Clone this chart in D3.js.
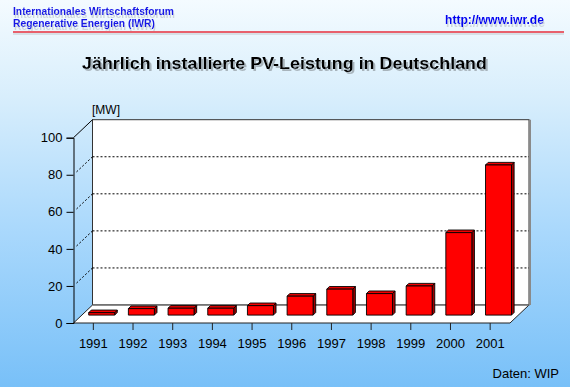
<!DOCTYPE html>
<html><head><meta charset="utf-8">
<script src="https://cdn.jsdelivr.net/npm/d3@7"></script>
<style>html,body{margin:0;padding:0;overflow:hidden}svg{display:block}</style>
</head><body>
<script>
const years = ["1991","1992","1993","1994","1995","1996","1997","1998","1999","2000","2001"];
const values = [1.3, 3.5, 3.7, 3.7, 5.1, 10.2, 14, 11.6, 15.7, 44.5, 81];
const yTicks = [0, 20, 40, 60, 80, 100];
const gridLevels = [20, 40, 60, 80];
const title = "Jährlich installierte PV-Leistung in Deutschland";
const headerLines = ["Internationales Wirtschaftsforum", "Regenerative Energien (IWR)"];
const url = "http://www.iwr.de";
const unit = "[MW]";
const source = "Daten: WIP";

const W = 570, H = 387;
const svg = d3.select("body").append("svg").attr("width", W).attr("height", H);
const defs = svg.append("defs");
const g = defs.append("linearGradient").attr("id","bg").attr("x1",0).attr("y1",0).attr("x2",0).attr("y2",1);
g.append("stop").attr("offset","0").attr("stop-color","#f4fbff");
g.append("stop").attr("offset","0.25").attr("stop-color","#d8eefc");
g.append("stop").attr("offset","0.6").attr("stop-color","#a9d8fc");
g.append("stop").attr("offset","1").attr("stop-color","#78c0f8");
svg.append("rect").attr("width",W).attr("height",H).attr("fill","url(#bg)");

function shadowFilter(id, dx, dy, color) {
  const fl = defs.append("filter").attr("id", id).attr("x","-5%").attr("y","-30%").attr("width","115%").attr("height","190%");
  fl.append("feOffset").attr("in","SourceAlpha").attr("dx",dx).attr("dy",dy).attr("result","off");
  fl.append("feFlood").attr("flood-color",color).attr("result","col");
  fl.append("feComposite").attr("in","col").attr("in2","off").attr("operator","in").attr("result","sh");
  const m = fl.append("feMerge");
  m.append("feMergeNode").attr("in","sh");
  m.append("feMergeNode").attr("in","SourceGraphic");
}
shadowFilter("hshadow", 1, 3, "#cdd5dc");
shadowFilter("tshadow", 1.5, 1.5, "#a8b4bc");

const font = "'Liberation Sans', Arial, sans-serif";

// header
const hdr = [[headerLines[0], 13, 15, 161], [headerLines[1], 13, 26.5, 142]];
hdr.forEach(([t,x,y,len]) => {
  svg.append("text").attr("x",x).attr("y",y).attr("font-family",font).attr("font-weight","bold")
    .attr("font-size",11).attr("fill","#1414e6").attr("textLength",len).attr("lengthAdjust","spacingAndGlyphs")
    .attr("filter","url(#hshadow)").text(t);
});
svg.append("text").attr("x",445).attr("y",24).attr("font-family",font).attr("font-weight","bold")
  .attr("font-size",12.5).attr("fill","#0000f0").attr("textLength",99).attr("lengthAdjust","spacingAndGlyphs")
  .attr("filter","url(#hshadow)").text(url);
svg.append("line").attr("x1",13).attr("x2",564).attr("y1",34).attr("y2",34).attr("stroke","#d0d8de").attr("stroke-width",1.5);
svg.append("line").attr("x1",13).attr("x2",564).attr("y1",32).attr("y2",32).attr("stroke","#e8606c").attr("stroke-width",1.8);

// title
svg.append("text").attr("x",82).attr("y",68.5).attr("font-family",font).attr("font-weight","bold")
  .attr("font-size",17).attr("fill","#000").attr("textLength",405).attr("lengthAdjust","spacingAndGlyphs")
  .attr("filter","url(#tshadow)").text(title);

// scales
const x0 = 73.5, x1 = 510;
const DX = 19, DY = -18;
const y = d3.scaleLinear().domain([0,100]).range([323, 137.7]);
const x = d3.scaleBand().domain(years).range([x0, x1]).paddingInner(0.345).paddingOuter(0.1725);

// back wall
svg.append("rect").attr("x", x0+DX).attr("y", y(100)+DY).attr("width", x1-x0).attr("height", y(0)-y(100))
  .attr("fill","#fff").attr("stroke","#333").attr("stroke-width",1);
svg.append("line").attr("x1", x1+DX+1).attr("x2", x1+DX+1).attr("y1", y(100)+DY).attr("y2", y(0)+DY)
  .attr("stroke","#8a8a8a").attr("stroke-width",2);
// floor
svg.append("path").attr("d", `M${x0},${y(0)}L${x1},${y(0)}L${x1+DX},${y(0)+DY}L${x0+DX},${y(0)+DY}Z`)
  .attr("fill","#fff").attr("stroke","#222").attr("stroke-width",1);
svg.append("line").attr("x1", x0+DX).attr("x2", x1+DX).attr("y1", y(0)+DY).attr("y2", y(0)+DY)
  .attr("stroke","#888").attr("stroke-width",1.2);

// gridlines
gridLevels.forEach(v => {
  svg.append("line").attr("x1", x0+DX).attr("x2", x1+DX).attr("y1", y(v)+DY).attr("y2", y(v)+DY)
    .attr("stroke","#000").attr("stroke-width",1).attr("stroke-dasharray","2,2");
  svg.append("line").attr("x1", x0+3).attr("x2", x0+DX).attr("y1", y(v)-3*18/19).attr("y2", y(v)+DY)
    .attr("stroke","#000").attr("stroke-width",1).attr("stroke-dasharray","2,2");
});
// left solid diagonal at top
svg.append("line").attr("x1", x0).attr("x2", x0+DX).attr("y1", y(100)).attr("y2", y(100)+DY).attr("stroke","#000");

// bars
const f = 0.44, bdx = DX*f, bdy = DY*f, dd = 2.6;
const bars = svg.append("g");
years.forEach((yr, i) => {
  const v = values[i];
  const bx = x(yr) + bdx, bw = x.bandwidth();
  const top = y(v) + bdy, bot = y(0) + bdy;
  const gb = bars.append("g").attr("stroke","#000").attr("stroke-width",0.9).attr("stroke-linejoin","round");
  gb.append("path").attr("d", `M${bx+bw},${top}L${bx+bw+dd},${top-dd}L${bx+bw+dd},${bot-dd}L${bx+bw},${bot}Z`).attr("fill","#a00000");
  gb.append("path").attr("d", `M${bx},${top}L${bx+dd},${top-dd}L${bx+bw+dd},${top-dd}L${bx+bw},${top}Z`).attr("fill","#f00000");
  gb.append("rect").attr("x", bx).attr("y", top).attr("width", bw).attr("height", bot-top).attr("fill","#ff0000");
});

// y axis
const yAxis = svg.append("g").attr("transform", `translate(${x0},0)`)
  .call(d3.axisLeft(y).tickValues(yTicks).tickSize(7).tickPadding(4).tickFormat(d3.format("d")));
yAxis.select(".domain").attr("stroke","#000");
yAxis.selectAll(".tick line").attr("stroke","#000");
yAxis.selectAll("text").attr("font-family",font).attr("font-size",13).attr("fill","#000");

// x axis
const xAxis = svg.append("g").attr("transform", `translate(0,${y(0)})`)
  .call(d3.axisBottom(x).tickSize(7).tickPadding(9));
xAxis.select(".domain").remove();
xAxis.selectAll(".tick line").attr("stroke","#222");
xAxis.selectAll("text").attr("font-family",font).attr("font-size",13).attr("fill","#000");

// unit
svg.append("text").attr("x",92).attr("y",113.5).attr("font-family",font).attr("font-size",12).attr("fill","#000").text(unit);
// source
svg.append("text").attr("x",559).attr("y",377.5).attr("text-anchor","end").attr("font-family",font)
  .attr("font-size",13).attr("fill","#000").text(source);
</script>
</body></html>
